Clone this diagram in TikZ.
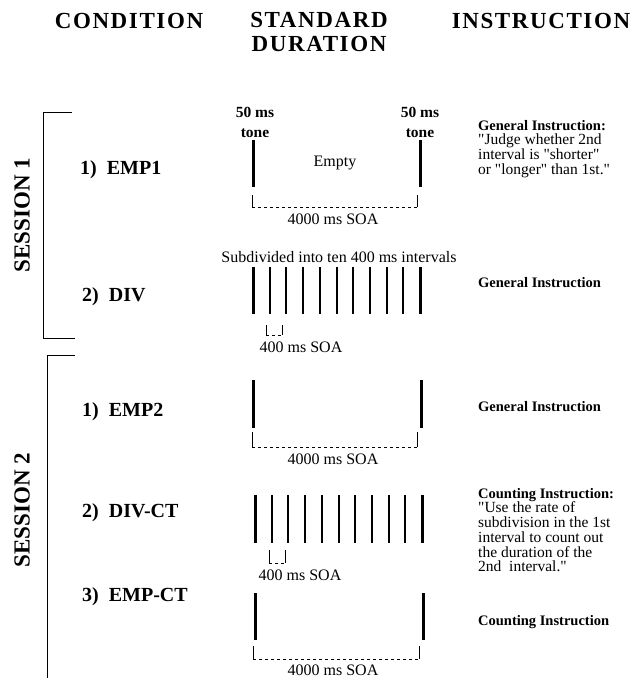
\documentclass[tikz,border=0pt]{standalone}
\usepackage{fontspec}
\setmainfont{Liberation Serif}[Ligatures=TeXOff]

\begin{document}
\begin{tikzpicture}[x=1pt,y=-1pt,
	head/.style={font=\fontsize{23}{24}\selectfont\bfseries\addfontfeatures{LetterSpace=7},align=center},
	cond/.style={font=\fontsize{20}{21}\selectfont\bfseries,anchor=west,inner sep=0pt},
	sess/.style={font=\fontsize{23}{24}\selectfont\bfseries,rotate=90},
	tone/.style={font=\fontsize{15.5}{20}\selectfont\bfseries,align=center},
	lbl/.style={font=\fontsize{16}{18}\selectfont},
	instr/.style={font=\fontsize{15.5}{14.7}\selectfont,align=left,anchor=north west,inner sep=0pt},
	gen/.style={font=\fontsize{14.5}{15}\selectfont\bfseries,anchor=west,inner sep=0pt},
	endbar/.style={line width=3pt},
	midbar/.style={line width=2pt},
	soa/.style={dashed,line width=0.8pt}]
		\useasboundingbox(0,0)rectangle(631,678);
		% column heads
		\node[head](hcond)at(129,21){CONDITION};
		\node[head](hstd)at(319,32){STANDARD\\DURATION};
		\node[head](hinstr)at(541,21){INSTRUCTION};
		% sessions
		\draw[line width=0.9pt](72,112)--(43,112)--(43,338)--(75,338);
		\draw[line width=0.9pt](75,355)--(47,355)--(47,678);
		\node[sess](sone)at(22,215){SESSION 1};
		\node[sess](stwo)at(22,510){SESSION 2};
		\node[cond](emp1)at(80,170){1)\ \ EMP1};
		\node[cond](div)at(82,297){2)\ \ DIV};
		\node[cond](emp2)at(82,412){1)\ \ EMP2};
		\node[cond](divct)at(82,513){2)\ \ DIV-CT};
		\node[cond](empct)at(82,597){3)\ \ EMP-CT};
		% EMP1
		\node[tone](toneA)at(255,122){50 ms\\tone};
		\node[tone](toneB)at(420,122){50 ms\\tone};
		\draw[endbar](253,140)--(253,187);
		\draw[endbar](420,140)--(420,187);
		\node[lbl](empty)at(335,163){Empty};
		\draw(252,195)--(252,207);
		\draw[soa](252,207)--(417,207);
		\draw(417,195)--(417,207);
		\node[lbl](soaA)at(333,219){4000 ms SOA};
		% DIV
		\node[lbl](subdiv)at(339,257){Subdivided into ten 400 ms intervals};
		\draw[endbar](253,267)--(253,314);
		\draw[endbar](420,267)--(420,314);
		\foreach \i in {1,...,9}
			\draw[midbar]({253+16.7*\i},267)--({253+16.7*\i},314);
		\draw(266,325)--(266,335);
		\draw[soa](266,335)--(282,335);
		\draw(282,325)--(282,335);
		\node[lbl](soaB)at(301,347){400 ms SOA};
		% EMP2
		\draw[endbar](253,380)--(253,428);
		\draw[endbar](421,380)--(421,428);
		\draw(252,432)--(252,447);
		\draw[soa](252,447)--(417,447);
		\draw(417,432)--(417,447);
		\node[lbl](soaC)at(333,459){4000 ms SOA};
		% DIV-CT
		\draw[endbar](255,495)--(255,543);
		\draw[endbar](422,495)--(422,543);
		\foreach \i in {1,...,9}
			\draw[midbar]({255+16.7*\i},495)--({255+16.7*\i},543);
		\draw(269,550)--(269,563);
		\draw[soa](269,563)--(285,563);
		\draw(285,550)--(285,563);
		\node[lbl](soaD)at(300,575){400 ms SOA};
		% EMP-CT
		\draw[endbar](255,593)--(255,640);
		\draw[endbar](423,593)--(423,640);
		\draw(253,646)--(253,659);
		\draw[soa](253,659)--(419,659);
		\draw(419,646)--(419,659);
		\node[lbl](soaE)at(333,670){4000 ms SOA};
		% instructions
		\node[instr](insA)at(478,120){{\fontsize{14.5}{14.7}\selectfont\bfseries General Instruction:}\\"Judge whether 2nd\\interval is "shorter"\\or "longer" than 1st."};
		\node[gen](insB)at(478,283){General Instruction};
		\node[gen](insC)at(478,407){General Instruction};
		\node[instr](insD)at(478,488){{\fontsize{14.5}{14.7}\selectfont\bfseries Counting Instruction:}\\"Use the rate of\\subdivision in the 1st\\interval to count out\\the duration of the\\2nd\ \ interval."};
		\node[gen](insE)at(478,622){Counting Instruction};
		\end{tikzpicture}
\end{document}
